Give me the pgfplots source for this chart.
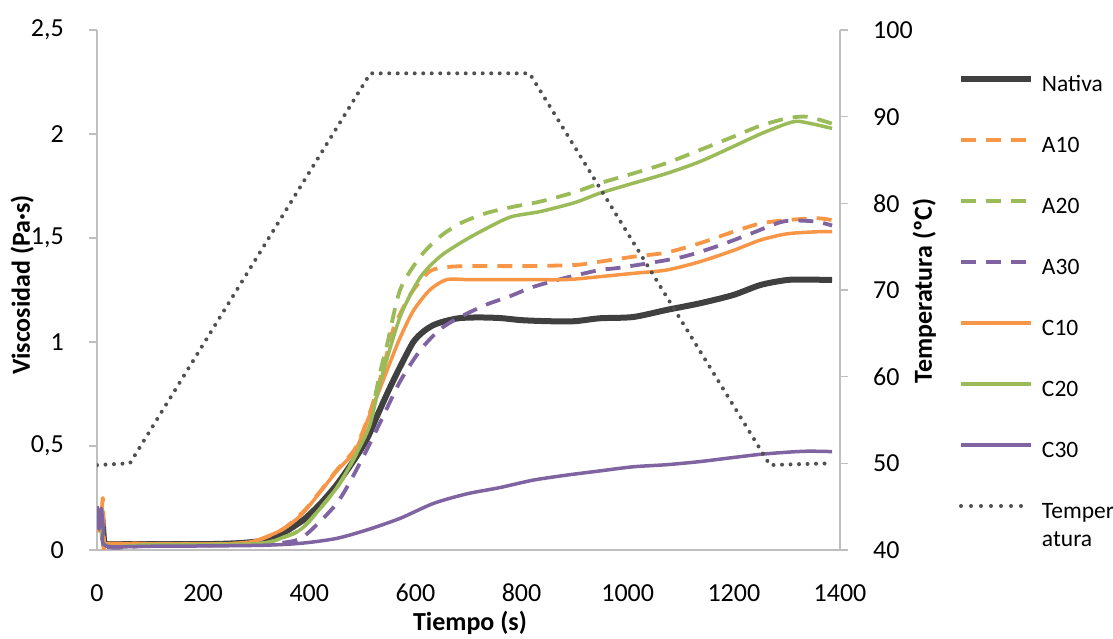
\documentclass[border=0pt]{standalone}
\usepackage{fontspec}
\setmainfont{Carlito}
\usepackage{pgfplots}
\pgfplotsset{compat=1.18}
\definecolor{cnat}{RGB}{64,64,64}
\definecolor{corg}{RGB}{247,150,70}
\definecolor{cgrn}{RGB}{155,187,89}
\definecolor{cpur}{RGB}{128,100,162}
\definecolor{ctmp}{RGB}{80,80,80}
\definecolor{caxis}{RGB}{191,191,191}
\pgfplotsset{
 common/.style={at={(97pt,89pt)}, anchor=south west, scale only axis,
  width=743pt, height=520pt, xmin=0, xmax=1400,
  axis line style={caxis, line width=1.5pt, -},
  tick align=outside, major tick length=8pt,
  tick style={caxis, line width=1.5pt},
  /pgf/number format/assume math mode=true,
  /pgf/number format/1000 sep={},
  ticklabel style={font=\fontsize{26}{30}\selectfont, inner sep=0pt},
  label style={font=\bfseries\fontsize{26}{30}\selectfont, inner sep=0pt},
 },
 dashA/.style={line width=3.8pt, dash pattern=on 15pt off 10pt, smooth, tension=0.45},
 solC/.style={line width=3.5pt, smooth, tension=0.45},
}
\begin{document}
\begin{tikzpicture}
\useasboundingbox (0,0) rectangle (1113pt,639pt);
\begin{axis}[common,
  ymin=0, ymax=2.5,
  axis x line*=bottom, axis y line*=left,
  xtick={0,200,...,1400},
  xtick style={draw=none},
  xticklabel style={anchor=base, yshift=-44pt},
  ytick={0,0.5,1,1.5,2,2.5},
  yticklabels={0,{0,5},1,{1,5},2,{2,5}},
  yticklabel style={anchor=east, xshift=-25pt},
  xlabel={Tiempo (s)},
  xlabel style={at={(axis description cs:0.502,0)}, anchor=base, yshift=-81pt},
  ylabel={Viscosidad (Pa·s)},
  ylabel style={at={(axis description cs:-0.0902,0.5096)}, anchor=base},
  legend style={at={(axis description cs:1.1588,0.9125)}, anchor=north west,
    draw=none, fill=none, inner sep=0pt, outer sep=0pt,
    row sep=39pt, column sep=8pt,
    font=\fontsize{23.5}{28}\selectfont,
    nodes={inner sep=0pt, text height=16pt, text depth=6pt}},
  legend cell align=left,
  legend image code/.code={\draw[#1] (0pt,7.5pt) -- (70pt,7.5pt);},
  line join=round,
]
% Nativa
\addplot[cnat, line width=6pt, smooth, tension=0.45] coordinates {
(0,0.12)(5,0.16)(10,0.15)(14,0.03)(20,0.028)(100,0.028)(200,0.028)(260,0.032)(300,0.04)(326,0.052)(350,0.08)(389,0.145)(420,0.22)(452,0.315)(489,0.45)(510,0.54)(527,0.64)(550,0.77)(571,0.88)(596,1.0)(615,1.05)(633,1.08)(655,1.10)(684,1.115)(720,1.118)(760,1.115)(800,1.105)(850,1.10)(900,1.10)(947,1.114)(1010,1.12)(1073,1.154)(1136,1.186)(1199,1.226)(1250,1.274)(1300,1.298)(1340,1.30)(1385,1.298)};
\addlegendentry{Nativa}
% A10
\addplot[corg, dashA] coordinates {
(0,0.1)(7,0.1)(11,0.25)(14,0.0)(18,0.03)(100,0.03)(250,0.03)(300,0.045)(350,0.1)(389,0.185)(420,0.28)(452,0.385)(487,0.49)(514,0.66)(540,0.88)(558,1.06)(580,1.18)(596,1.25)(627,1.34)(659,1.36)(700,1.365)(800,1.365)(900,1.37)(947,1.386)(1010,1.41)(1073,1.43)(1136,1.475)(1199,1.53)(1250,1.57)(1300,1.586)(1357,1.595)(1385,1.586)};
\addlegendentry{A10}
% A20
\addplot[cgrn, dashA] coordinates {
(0,0.15)(10,0.19)(15,0.025)(100,0.025)(300,0.03)(350,0.06)(389,0.11)(452,0.30)(489,0.465)(514,0.625)(533,0.85)(546,0.98)(571,1.25)(609,1.41)(646,1.506)(684,1.57)(734,1.62)(784,1.65)(835,1.675)(900,1.72)(947,1.763)(1010,1.81)(1073,1.86)(1136,1.923)(1199,1.987)(1250,2.04)(1300,2.075)(1338,2.083)(1385,2.05)};
\addlegendentry{A20}
% A30
\addplot[cpur, dashA] coordinates {
(0,0.2)(5,0.1)(10,0.18)(15,0.02)(100,0.02)(300,0.025)(350,0.035)(389,0.064)(452,0.225)(496,0.42)(533,0.61)(571,0.81)(609,0.96)(646,1.06)(684,1.12)(734,1.18)(778,1.22)(822,1.265)(885,1.31)(947,1.346)(979,1.355)(1042,1.38)(1105,1.41)(1168,1.46)(1231,1.52)(1294,1.58)(1351,1.58)(1385,1.56)};
\addlegendentry{A30}
% C10
\addplot[corg, solC] coordinates {
(0,0.15)(10,0.2)(13,0.01)(18,0.03)(100,0.03)(250,0.03)(300,0.045)(350,0.1)(389,0.18)(452,0.38)(487,0.48)(514,0.65)(552,0.90)(571,1.02)(596,1.15)(627,1.25)(659,1.30)(700,1.30)(800,1.30)(885,1.30)(947,1.314)(1010,1.33)(1073,1.346)(1136,1.386)(1199,1.44)(1250,1.49)(1300,1.52)(1357,1.53)(1385,1.53)};
\addlegendentry{C10}
% C20
\addplot[cgrn, solC] coordinates {
(0,0.15)(10,0.19)(15,0.025)(100,0.025)(300,0.03)(350,0.06)(389,0.11)(452,0.30)(489,0.465)(514,0.60)(533,0.80)(571,1.12)(609,1.31)(646,1.41)(684,1.475)(722,1.53)(778,1.60)(835,1.627)(900,1.67)(947,1.715)(1010,1.763)(1073,1.81)(1136,1.867)(1199,1.94)(1250,2.0)(1300,2.05)(1325,2.06)(1385,2.027)};
\addlegendentry{C20}
% C30
\addplot[cpur, solC] coordinates {
(0,0.21)(4,0.1)(8,0.2)(12,0.1)(16,0.02)(100,0.018)(300,0.022)(383,0.032)(450,0.055)(508,0.096)(571,0.152)(634,0.224)(697,0.27)(759,0.30)(822,0.336)(885,0.36)(947,0.38)(1010,0.40)(1073,0.41)(1136,0.425)(1200,0.445)(1250,0.46)(1300,0.47)(1340,0.475)(1385,0.473)};
\addlegendentry{C30}
\addlegendimage{ctmp, line width=4pt, line cap=round, dash pattern=on 0pt off 10pt}
\addlegendentry{\smash{\begin{tabular}[t]{@{}l@{}}Temper\\atura\end{tabular}}}
\end{axis}
\begin{axis}[common,
  ymin=40, ymax=100,
  axis x line=none, axis y line*=right,
  ytick={40,50,...,100},
  yticklabel style={anchor=west, xshift=25pt},
  ylabel={Temperatura (ºC)},
  ylabel style={at={(axis description cs:1.1238,0.498)}, anchor=base},
]
\addplot[ctmp, line width=4pt, line cap=round, dash pattern=on 0pt off 8.5pt] coordinates {
(0,49.8)(30,49.9)(62,50)(515,95)(815,95)(1268,49.8)(1320,49.9)(1385,50)};
\end{axis}
\end{tikzpicture}
\end{document}
